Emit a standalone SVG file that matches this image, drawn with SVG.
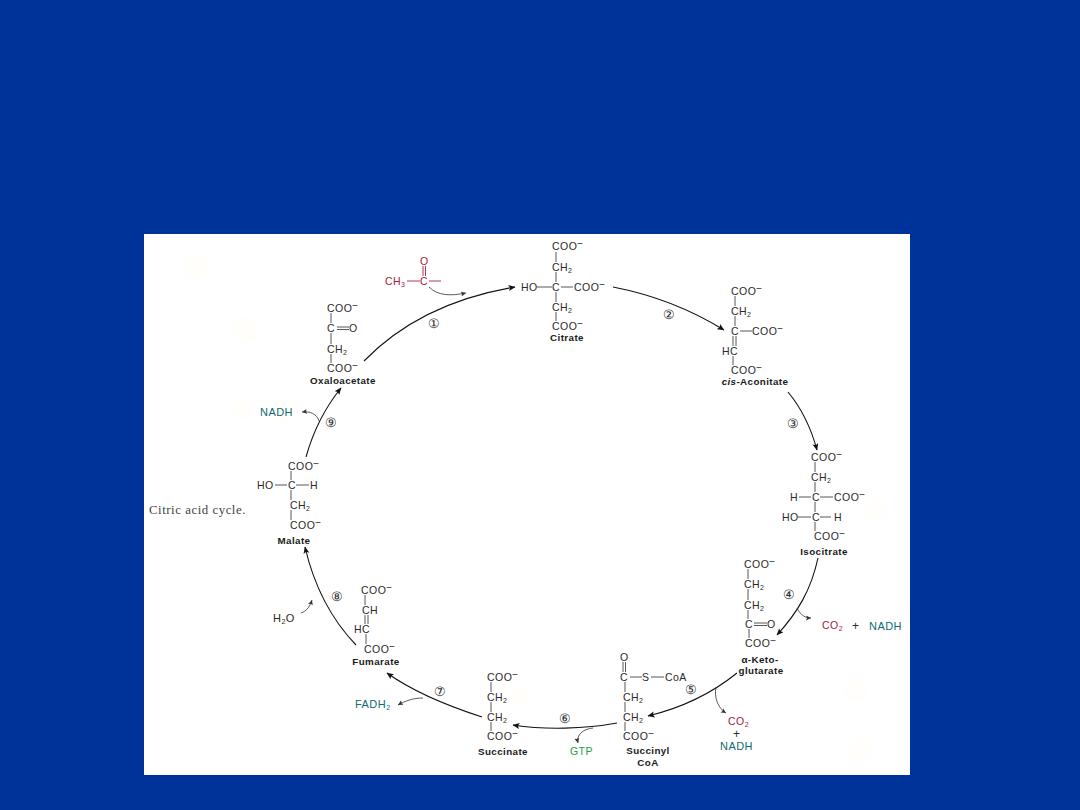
<svg xmlns="http://www.w3.org/2000/svg" width="1080" height="810" viewBox="0 0 1080 810">
<style>
text{font-family:"Liberation Sans",Arial,sans-serif;font-size:10.5px;letter-spacing:.45px;fill:#2a2a2a}
.m{font-size:10px}
.u{font-size:7px}
.l{font-weight:bold;font-size:9.800px;text-anchor:middle;fill:#1a1a1a;letter-spacing:.4px}
.red{fill:#a3203a}.teal{fill:#0f6a72;font-size:11px}.green{fill:#1f9a4a}
.n{font-size:13px;text-anchor:middle;letter-spacing:0}
.cap{font-family:"Liberation Serif",serif;font-size:12.800px;letter-spacing:.55px;fill:#444}
.b{stroke:#444;stroke-width:.9;fill:none}
.rb{stroke:#a3203a;stroke-width:.9;fill:none}
.a{stroke:#111;stroke-width:1.1;fill:none;marker-end:url(#h)}
.s{stroke:#333;stroke-width:.8;fill:none;marker-end:url(#hs)}
</style>
<defs>
<marker id="h" markerUnits="userSpaceOnUse" markerWidth="8" markerHeight="7" refX="6.500" refY="3" orient="auto"><path d="M0 0L7 3L0 6L1.500 3Z" fill="#111"/></marker>
<marker id="hs" markerUnits="userSpaceOnUse" markerWidth="6" markerHeight="6" refX="5" refY="2.500" orient="auto"><path d="M0 0L5 2.500L0 5L1 2.500Z" fill="#333"/></marker>
</defs>
<rect width="1080" height="810" fill="#003399"/>
<rect x="144" y="234" width="766" height="541" fill="#fff"/>
<g fill="#fffefa">
<circle cx="245" cy="330" r="13"/><circle cx="243" cy="410" r="10"/><circle cx="284" cy="410" r="12"/><circle cx="195" cy="267" r="12"/><circle cx="285" cy="618" r="12"/><circle cx="855" cy="690" r="12"/><circle cx="860" cy="750" r="13"/><circle cx="875" cy="510" r="12"/><circle cx="520" cy="695" r="10"/>
</g>
<g id="connectors">
<path class="a" d="M364 361C403 321 455 297 515 287"/>
<path class="a" d="M613 287C654 295 690 309 724 330"/>
<path class="a" d="M788 392C803 410 811 428 817 450"/>
<path class="a" d="M818 558C811 590 798 612 777 635"/>
<path class="a" d="M737 673C711 694 681 708 648 716"/>
<path class="a" d="M617 723C585 729 545 730 513 725"/>
<path class="a" d="M482 717C448 706 415 693 387 673"/>
<path class="a" d="M356 645C333 621 315 590 305 547"/>
<path class="a" d="M306 457C313 432 324 409 341 388"/>
<path class="s" d="M429 287C438 296 451 296 466 293"/>
<path class="s" d="M797 608C801 616 806 618 811 618"/>
<path class="s" d="M716 687C714 698 718 708 726 713"/>
<path class="s" d="M593 728C583 729 576 735 578 743"/>
<path class="s" d="M423 698C413 698 405 701 398 705"/>
<path class="s" d="M319 421C317 414 310 411 302 412"/>
<path class="s" d="M301 613C307 611 310 606 312 600"/>
</g>
<g id="citrate">
<path class="b" d="M556 252V262M556 272V282M537 287H552M561 287H573M556 292V302M556 312V321"/>
<text x="552" y="250">COO<tspan class="m" dy="-3">−</tspan></text>
<text x="552" y="271">CH<tspan class="u" dy="2">2</tspan></text>
<text x="521" y="291">HO</text><text x="552" y="291">C</text>
<text x="574" y="291">COO<tspan class="m" dy="-3">−</tspan></text>
<text x="552" y="311">CH<tspan class="u" dy="2">2</tspan></text>
<text x="552" y="330">COO<tspan class="m" dy="-3">−</tspan></text>
<text class="l" x="567" y="341">Citrate</text>
</g>
<g id="cis-aconitate">
<path class="b" d="M735 296V306M735 316V326M740 331H752M733 336V346M736 336V346M733 356V365"/>
<text x="731" y="295">COO<tspan class="m" dy="-3">−</tspan></text>
<text x="731" y="315">CH<tspan class="u" dy="2">2</tspan></text>
<text x="731" y="335">C</text>
<text x="752" y="335">COO<tspan class="m" dy="-3">−</tspan></text>
<text x="722" y="355">HC</text>
<text x="731" y="374">COO<tspan class="m" dy="-3">−</tspan></text>
<text class="l" x="755" y="385"><tspan font-style="italic">cis</tspan>-Aconitate</text>
</g>
<g id="isocitrate">
<path class="b" d="M815 462V472M815 482V492M799 497H811M820 497H833M815 502V512M798 517H811M820 517H831M815 522V531"/>
<text x="811" y="461">COO<tspan class="m" dy="-3">−</tspan></text>
<text x="811" y="481">CH<tspan class="u" dy="2">2</tspan></text>
<text x="790" y="501">H</text><text x="812" y="501">C</text>
<text x="834" y="501">COO<tspan class="m" dy="-3">−</tspan></text>
<text x="782" y="521">HO</text><text x="812" y="521">C</text><text x="834" y="521">H</text>
<text x="814" y="540">COO<tspan class="m" dy="-3">−</tspan></text>
<text class="l" x="824" y="555">Isocitrate</text>
</g>
<g id="alpha-ketoglutarate">
<path class="b" d="M748 569V579M748 589V600M748 610V619M754 623H767M754 625.500H767M749 629V638"/>
<text x="744" y="568">COO<tspan class="m" dy="-3">−</tspan></text>
<text x="744" y="588">CH<tspan class="u" dy="2">2</tspan></text>
<text x="744" y="609">CH<tspan class="u" dy="2">2</tspan></text>
<text x="745" y="628">C</text><text x="767" y="628">O</text>
<text x="745" y="647">COO<tspan class="m" dy="-3">−</tspan></text>
<text class="l" x="760" y="663">α-Keto-</text>
<text class="l" x="761" y="674">glutarate</text>
</g>
<g id="succinyl-coa">
<path class="b" d="M623 662V672M625.500 662V672M630 677H642M651 677H664M625 682V692M625 702V712M625 722V731"/>
<text x="620" y="661">O</text>
<text x="620" y="681">C</text>
<text x="642" y="681">S</text>
<text x="665" y="681">CoA</text>
<text x="623" y="701">CH<tspan class="u" dy="2">2</tspan></text>
<text x="623" y="721">CH<tspan class="u" dy="2">2</tspan></text>
<text x="623" y="740">COO<tspan class="m" dy="-3">−</tspan></text>
<text class="l" x="648" y="754">Succinyl</text>
<text class="l" x="648" y="766">CoA</text>
</g>
<g id="succinate">
<path class="b" d="M491 682V692M491 702V712M491 722V731"/>
<text x="487" y="681">COO<tspan class="m" dy="-3">−</tspan></text>
<text x="487" y="701">CH<tspan class="u" dy="2">2</tspan></text>
<text x="487" y="721">CH<tspan class="u" dy="2">2</tspan></text>
<text x="487" y="740">COO<tspan class="m" dy="-3">−</tspan></text>
<text class="l" x="503" y="755">Succinate</text>
</g>
<g id="fumarate">
<path class="b" d="M365 595V605M365 615V624M368 615V624M366 634V644"/>
<text x="361" y="594">COO<tspan class="m" dy="-3">−</tspan></text>
<text x="362" y="614">CH</text>
<text x="354" y="633">HC</text>
<text x="364" y="653">COO<tspan class="m" dy="-3">−</tspan></text>
<text class="l" x="376" y="665">Fumarate</text>
</g>
<g id="malate">
<path class="b" d="M291 471V480M275 485H287M296 485H309M291 490V500M291 510V520"/>
<text x="288" y="470">COO<tspan class="m" dy="-3">−</tspan></text>
<text x="257" y="489">HO</text><text x="288" y="489">C</text><text x="310" y="489">H</text>
<text x="290" y="509">CH<tspan class="u" dy="2">2</tspan></text>
<text x="290" y="529">COO<tspan class="m" dy="-3">−</tspan></text>
<text class="l" x="294" y="544">Malate</text>
</g>
<g id="oxaloacetate">
<path class="b" d="M331 313V323M337 327H349M337 329.500H349M331 333V344M331 354V363"/>
<text x="327" y="312">COO<tspan class="m" dy="-3">−</tspan></text>
<text x="327" y="332">C</text><text x="349" y="332">O</text>
<text x="327" y="353">CH<tspan class="u" dy="2">2</tspan></text>
<text x="327" y="372">COO<tspan class="m" dy="-3">−</tspan></text>
<text class="l" x="343" y="384">Oxaloacetate</text>
</g>
<g id="acetyl">
<path class="rb" d="M423 266V276M425.500 266V276M407 281H420M429 281H441"/>
<text class="red" x="420" y="265">O</text>
<text class="red" x="385" y="285">CH<tspan class="u" dy="2">3</tspan></text>
<text class="red" x="420" y="285">C</text>
</g>
<g id="products">
<text class="teal" x="260" y="416">NADH</text>
<text x="273" y="622" style="font-size:11px">H<tspan class="u" dy="2">2</tspan><tspan dy="-2">O</tspan></text>
<text class="teal" x="355" y="708">FADH<tspan class="u" dy="2">2</tspan></text>
<text class="green" x="570" y="755">GTP</text>
<text class="red" x="822" y="629">CO<tspan class="u" dy="2">2</tspan></text>
<text x="852" y="630" style="font-size:12px">+</text>
<text class="teal" x="869" y="630">NADH</text>
<text class="red" x="728" y="725">CO<tspan class="u" dy="2">2</tspan></text>
<text x="733" y="738" style="font-size:12px">+</text>
<text class="teal" x="720" y="750">NADH</text>
</g>
<g id="steps">
<text class="n" x="434" y="328">①</text>
<text class="n" x="669" y="319">②</text>
<text class="n" x="793" y="428">③</text>
<text class="n" x="789" y="599">④</text>
<text class="n" x="691" y="694">⑤</text>
<text class="n" x="565" y="723">⑥</text>
<text class="n" x="440" y="696">⑦</text>
<text class="n" x="337" y="601">⑧</text>
<text class="n" x="331" y="427">⑨</text>
</g>
<text class="cap" x="149" y="514">Citric acid cycle.</text>
</svg>
